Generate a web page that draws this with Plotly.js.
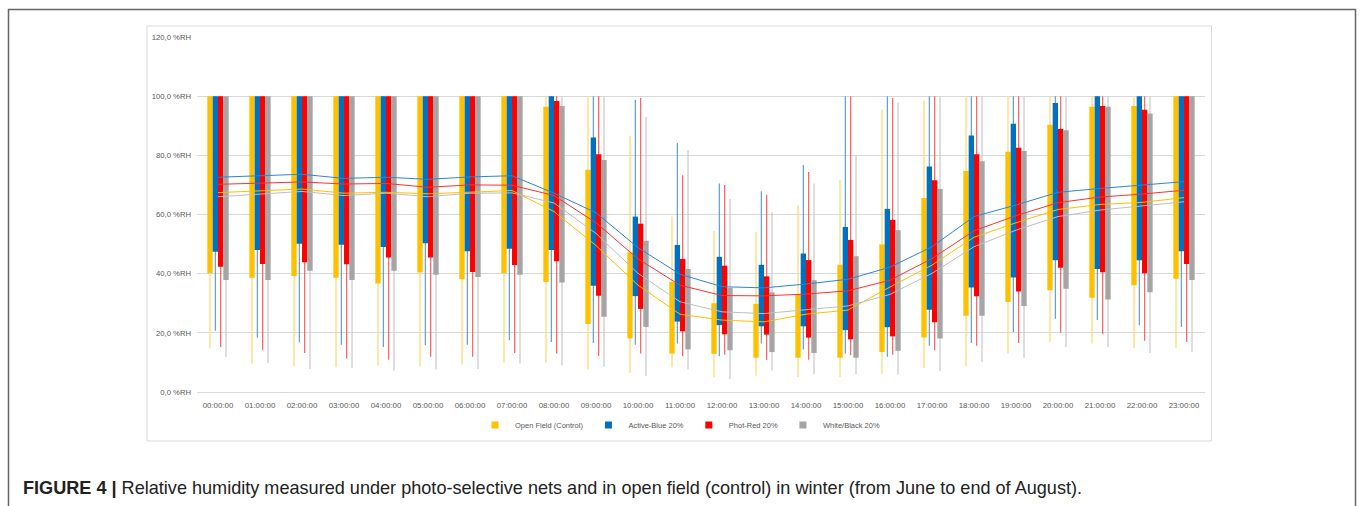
<!DOCTYPE html>
<html>
<head>
<meta charset="utf-8">
<script src="https://cdn.plot.ly/plotly-3.0.1.min.js"></script>
<style>
  html, body { margin: 0; padding: 0; background: #ffffff; }
  #chart { width: 1360px; height: 506px; }
</style>
</head>
<body>
<div id="chart"></div>
<script>
// ---------- data ----------
var hours = ["00:00:00","01:00:00","02:00:00","03:00:00","04:00:00","05:00:00","06:00:00","07:00:00",
             "08:00:00","09:00:00","10:00:00","11:00:00","12:00:00","13:00:00","14:00:00","15:00:00",
             "16:00:00","17:00:00","18:00:00","19:00:00","20:00:00","21:00:00","22:00:00","23:00:00"];
var seriesNames = ["Open Field (Control)", "Active-Blue 20%", "Phot-Red 20%", "White/Black 20%"];

// Open Field (Control)
var openQ1   = [40.1,38.6,39.2,38.6,36.7,40.4,38.1,40.1,37.2,23.0,18.1,13.0,12.9,11.6,11.6,11.6,13.5,18.4,25.8,30.4,34.4,31.9,36.1,38.3];
var openQ3   = [100,100,100,100,100,100,100,100,96.4,75.1,47.2,37.2,30.0,29.8,33.1,43.0,49.9,65.6,74.7,81.2,90.3,96.4,96.7,100];
var openMin  = [14.7,9.6,8.7,8.4,9.0,8.5,9.3,9.9,9.9,7.6,6.5,8.4,4.9,5.5,5.1,5.1,6.2,8.1,8.7,13.0,16.8,16.4,14.9,14.9];
var openMax  = [100,100,100,100,100,100,100,100,100,100,86.6,59.3,54.4,54.1,63.1,71.7,95.5,98.5,100,100,100,100,100,100];
var openMean = [67.4,67.9,68.6,67.2,67.5,67.0,67.5,68.1,61.0,49.5,36.1,26.3,24.3,23.7,26.3,27.7,35.5,42.9,52.3,57.2,61.7,63.4,64.1,65.7];

// Active-Blue 20%
var blueQ1   = [47.4,48.0,50.1,49.8,49.0,50.3,47.6,48.4,48.0,35.9,32.4,23.8,22.6,22.2,22.2,20.9,21.9,27.8,35.3,38.7,44.5,41.6,44.5,47.6];
var blueQ3   = [100,100,100,100,100,100,100,100,100,86.0,59.3,49.7,45.7,43.0,46.8,55.8,61.9,76.2,86.7,90.7,97.7,100,100,100];
var blueMin  = [20.7,18.3,16.8,16.0,15.2,15.8,16.0,17.5,16.9,16.6,16.0,16.4,12.1,16.4,14.4,13.0,11.9,15.6,16.6,20.3,24.8,24.3,22.6,22.0];
var blueMax  = [100,100,100,100,100,100,100,100,100,100,98.8,84.2,70.5,67.9,76.7,100,100,100,100,100,100,100,100,100];
var blueMean = [72.6,73.0,73.6,72.2,72.6,71.9,72.7,73.1,67.2,60.6,48.8,39.8,35.6,35.2,36.5,38.1,42.2,49.1,59.3,63.2,67.5,68.8,70.0,71.1];

// Phot-Red 20%
var redQ1   = [42.3,43.3,43.9,43.2,45.5,45.5,40.6,42.9,44.2,32.5,28.1,20.5,19.5,19.4,18.4,17.8,18.8,23.6,32.4,34.0,42.0,40.5,40.1,43.3];
var redQ3   = [100,100,100,100,100,100,100,100,98.4,80.4,56.9,45.0,42.7,39.1,44.6,51.4,58.2,71.6,80.4,82.6,88.9,96.7,95.4,100];
var redMin  = [15.2,14.1,13.2,11.3,10.9,11.9,11.9,13.2,13.0,12.2,13.0,12.1,12.6,10.8,10.9,12.4,12.6,14.1,15.6,16.6,20.0,19.5,17.3,16.9];
var redMax  = [100,100,100,100,100,100,100,100,100,100,99.4,73.3,70.0,66.7,74.4,100,99.4,100,100,100,100,100,100,100];
var redMean = [70.2,70.5,71.0,70.3,70.5,69.2,70.0,69.9,66.4,57.2,45.0,36.1,32.6,32.5,33.1,34.2,37.8,45.1,54.5,59.6,64.0,65.9,66.9,68.2];

// White/Black 20%
var grayQ1   = [37.9,37.9,41.0,37.9,41.0,39.6,38.9,39.6,37.0,25.4,22.0,14.4,14.1,13.5,13.2,11.6,13.9,18.1,25.8,29.1,34.9,31.3,33.7,37.9];
var grayQ3   = [100,100,100,100,100,100,100,100,96.7,78.4,51.1,41.6,35.2,33.7,37.8,45.9,54.7,68.6,78.0,81.5,88.5,96.4,94.1,100];
var grayMin  = [11.9,9.8,7.8,8.1,7.2,7.6,7.8,9.6,9.0,8.5,5.4,7.6,4.4,7.3,6.0,6.0,5.9,7.1,10.2,11.6,15.2,15.2,13.2,13.5];
var grayMax  = [100,100,100,100,100,100,100,100,100,100,93.0,81.8,65.2,60.8,70.5,80.1,97.9,100,100,100,100,100,100,100];
var grayMean = [66.0,66.8,67.8,66.4,67.2,66.0,67.2,67.3,63.9,53.6,40.1,30.5,27.1,26.5,27.7,29.1,33.0,40.1,49.1,54.7,59.3,61.5,62.9,64.3];

// ---------- styles ----------
var boxColors   = ["#FFC000", "#0070C0", "#FF0000", "#A5A5A5"];
var whiskColors = ["#FFD966", "#5B9BD5", "#FF5B5B", "#C8C8C8"];
var meanColors  = ["#FFC000", "#2E86D0", "#FF3030", "#BFBFBF"];
var boxWidth = 0.127;
var whiskWidth = 0.028;

var groups = [
  {q1: openQ1, q3: openQ3, mn: openMin, mx: openMax, mean: openMean},
  {q1: blueQ1, q3: blueQ3, mn: blueMin, mx: blueMax, mean: blueMean},
  {q1: redQ1,  q3: redQ3,  mn: redMin,  mx: redMax,  mean: redMean},
  {q1: grayQ1, q3: grayQ3, mn: grayMin, mx: grayMax, mean: grayMean}
];

var traces = [];
// whiskers (min to max)
groups.forEach(function (g, s) {
  var center = (s - 1.5) * boxWidth;
  traces.push({
    type: "bar", x: hours, base: g.mn,
    y: g.mx.map(function (v, i) { return v - g.mn[i]; }),
    width: whiskWidth, offset: center - whiskWidth / 2,
    marker: {color: whiskColors[s], line: {width: 0}},
    showlegend: false, hoverinfo: "skip"
  });
});
// boxes (Q1 to Q3)
groups.forEach(function (g, s) {
  var center = (s - 1.5) * boxWidth;
  traces.push({
    type: "bar", x: hours, base: g.q1,
    y: g.q3.map(function (v, i) { return v - g.q1[i]; }),
    width: boxWidth, offset: center - boxWidth / 2,
    marker: {color: boxColors[s], line: {width: 0}},
    name: seriesNames[s], showlegend: false
  });
});
// mean lines
groups.forEach(function (g, s) {
  traces.push({
    type: "scatter", mode: "lines", x: hours, y: g.mean,
    line: {color: meanColors[s], width: 1},
    showlegend: false, hoverinfo: "skip"
  });
});
// legend entries (small square swatches)
seriesNames.forEach(function (n, s) {
  traces.push({
    type: "scatter", mode: "markers", x: [null], y: [null], name: n,
    marker: {symbol: "square", size: 7, color: boxColors[s]},
    showlegend: true, hoverinfo: "skip"
  });
});

// plot area px -> paper helpers
var L = 197, R = 1205, T = 37, B = 392;
function px(x) { return (x - L) / (R - L); }
function py(y) { return (B - y) / (B - T); }

var layout = {
  width: 1360, height: 506,
  margin: {l: L, r: 1360 - R, t: T, b: 506 - B, pad: 0},
  paper_bgcolor: "#ffffff", plot_bgcolor: "#ffffff",
  barmode: "overlay",
  separators: ",.",
  font: {family: "Liberation Sans, Arial, sans-serif", color: "#595959", size: 7.5},
  xaxis: {
    type: "category", range: [-0.5, 23.5],
    showgrid: false, showline: true, linecolor: "#D9D9D9", linewidth: 1,
    ticks: "", tickfont: {size: 7.9, color: "#595959"}, ticklabelstandoff: 6
  },
  yaxis: {
    range: [0, 120], dtick: 20, tickformat: ".1f", ticksuffix: " %RH",
    showgrid: true, gridcolor: "#D9D9D9", gridwidth: 1,
    zeroline: false, showline: false, ticks: "",
    tickfont: {size: 7.7, color: "#595959"}, ticklabelstandoff: 5
  },
  showlegend: true,
  legend: {
    orientation: "h", x: px(680), xanchor: "center", y: py(425), yanchor: "middle",
    font: {size: 7.5, color: "#595959"}, itemwidth: 30, traceorder: "normal",
    bgcolor: "rgba(0,0,0,0)"
  },
  shapes: [
    {type: "rect", xref: "paper", yref: "paper", x0: px(147), x1: px(1211.5), y0: py(441), y1: py(26),
     line: {color: "#D9D9D9", width: 1}, fillcolor: "rgba(0,0,0,0)", layer: "below"},
    {type: "path", xref: "paper", yref: "paper",
     path: "M " + px(8.5) + " " + py(530) + " L " + px(8.5) + " " + py(9.5) + " L " + px(1355.5) + " " + py(9.5) + " L " + px(1355.5) + " " + py(530),
     line: {color: "#666666", width: 1.5}}
  ],
  annotations: [
    {xref: "paper", yref: "paper", x: px(21), y: py(488), xanchor: "left", yanchor: "middle",
     showarrow: false, align: "left",
     text: "<b>FIGURE 4 |</b> Relative humidity measured under photo-selective nets and in open field (control) in winter (from June to end of August).",
     font: {family: "Liberation Sans, Arial, sans-serif", size: 18.1, color: "#222222"}}
  ]
};

Plotly.newPlot("chart", traces, layout, {displayModeBar: false, staticPlot: true});
</script>
</body>
</html>
